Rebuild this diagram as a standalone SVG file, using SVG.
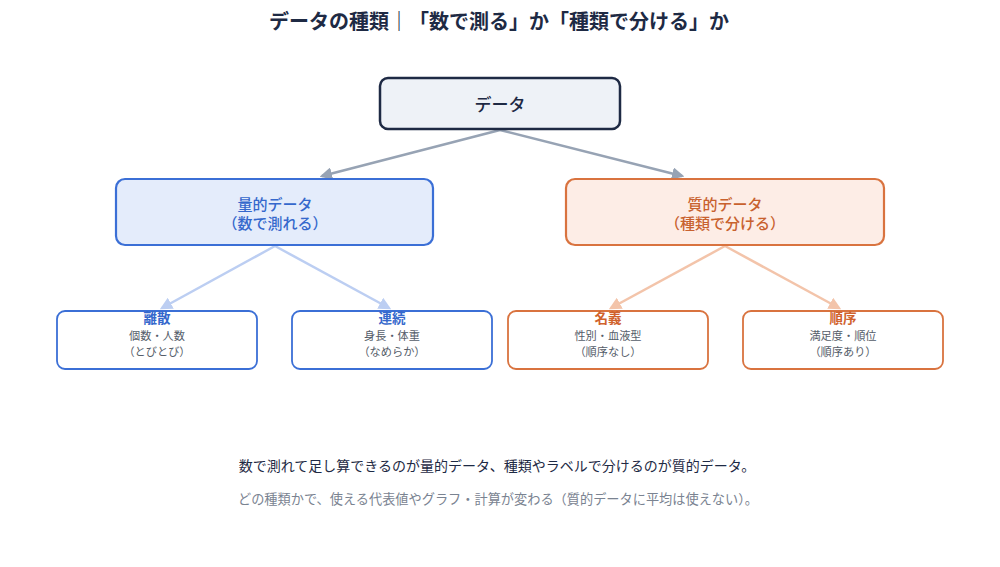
<svg xmlns="http://www.w3.org/2000/svg" width="1000" height="567" viewBox="0 0 1000 567">
<defs>
<style>
text{font-family:"Noto Sans CJK JP","Noto Sans",sans-serif;text-anchor:middle;dominant-baseline:central}
.title{font-size:20px;font-weight:700;fill:#1e2a44}
.root{fill:#eef2f7;stroke:#1e2a44;stroke-width:2.5}
.qb{fill:#e4ecfb;stroke:#3b6fd6;stroke-width:2.2}
.ob{fill:#fdede6;stroke:#d9733f;stroke-width:2.2}
.lb{fill:#ffffff;stroke:#3b6fd6;stroke-width:1.8}
.lo{fill:#ffffff;stroke:#d9733f;stroke-width:1.8}
.bt{fill:#3568cc;font-size:15px;font-weight:500}
.ot{fill:#c8612e;font-size:15px;font-weight:500}
.blt{fill:#3568cc;font-size:13.5px;font-weight:700}
.olt{fill:#d0622c;font-size:13.5px;font-weight:700}
.sub{fill:#555d69;font-size:11.2px}
.c1{stroke:#97a3b4;stroke-width:2.5;fill:none}
.c2{stroke:#bccef2;stroke-width:2.5;fill:none}
.c3{stroke:#f3c4aa;stroke-width:2.5;fill:none}
</style>
<marker id="a1" viewBox="0 0 10 10" refX="8" refY="5" markerWidth="5" markerHeight="5" orient="auto"><path d="M0,0 L10,5 L0,10 z" fill="#97a3b4"/></marker>
<marker id="a2" viewBox="0 0 10 10" refX="8" refY="5" markerWidth="5" markerHeight="5" orient="auto"><path d="M0,0 L10,5 L0,10 z" fill="#bccef2"/></marker>
<marker id="a3" viewBox="0 0 10 10" refX="8" refY="5" markerWidth="5" markerHeight="5" orient="auto"><path d="M0,0 L10,5 L0,10 z" fill="#f3c4aa"/></marker>
</defs>
<rect width="1000" height="567" fill="#ffffff"/>
<text class="title" x="499" y="20">データの種類｜「数で測る」か「種類で分ける」か</text>

<g id="connectors">
<line class="c1" x1="500" y1="130" x2="322" y2="176" marker-end="url(#a1)"/>
<line class="c1" x1="500" y1="130" x2="682" y2="176" marker-end="url(#a1)"/>
<line class="c2" x1="275" y1="246" x2="162" y2="308" marker-end="url(#a2)"/>
<line class="c2" x1="275" y1="246" x2="389" y2="308" marker-end="url(#a2)"/>
<line class="c3" x1="725" y1="246" x2="611" y2="308" marker-end="url(#a3)"/>
<line class="c3" x1="725" y1="246" x2="839" y2="308" marker-end="url(#a3)"/>
</g>

<g id="root">
<rect class="root" x="380" y="78" width="240" height="51" rx="8"/>
<text x="500" y="103" style="font-size:17px;fill:#1e2a44;font-weight:500">データ</text>
</g>

<g id="quant">
<rect class="qb" x="116" y="179" width="317" height="66" rx="9"/>
<text class="bt" x="275" y="203">量的データ</text>
<text class="bt" x="275" y="222">（数で測れる）</text>
</g>

<g id="qual">
<rect class="ob" x="566" y="179" width="318" height="66" rx="9"/>
<text class="ot" x="725" y="203">質的データ</text>
<text class="ot" x="725" y="222">（種類で分ける）</text>
</g>

<g id="discrete">
<rect class="lb" x="57" y="311" width="200" height="58" rx="8"/>
<text class="blt" x="157" y="317">離散</text>
<text class="sub" x="157" y="334.5">個数・人数</text>
<text class="sub" x="157" y="350.5">（とびとび）</text>
</g>

<g id="continuous">
<rect class="lb" x="292" y="311" width="200" height="58" rx="8"/>
<text class="blt" x="392" y="317">連続</text>
<text class="sub" x="392" y="334.5">身長・体重</text>
<text class="sub" x="392" y="350.5">（なめらか）</text>
</g>

<g id="nominal">
<rect class="lo" x="508" y="311" width="200" height="58" rx="8"/>
<text class="olt" x="608" y="317">名義</text>
<text class="sub" x="608" y="334.5">性別・血液型</text>
<text class="sub" x="608" y="350.5">（順序なし）</text>
</g>

<g id="ordinal">
<rect class="lo" x="743" y="311" width="200" height="58" rx="8"/>
<text class="olt" x="843" y="317">順序</text>
<text class="sub" x="843" y="334.5">満足度・順位</text>
<text class="sub" x="843" y="350.5">（順序あり）</text>
</g>

<text x="497" y="465" style="font-size:14px;fill:#1e2a44">数で測れて足し算できるのが量的データ、種類やラベルで分けるのが質的データ。</text>
<text x="498" y="498" style="font-size:13.2px;fill:#7a8391">どの種類かで、使える代表値やグラフ・計算が変わる（質的データに平均は使えない）。</text>
</svg>
